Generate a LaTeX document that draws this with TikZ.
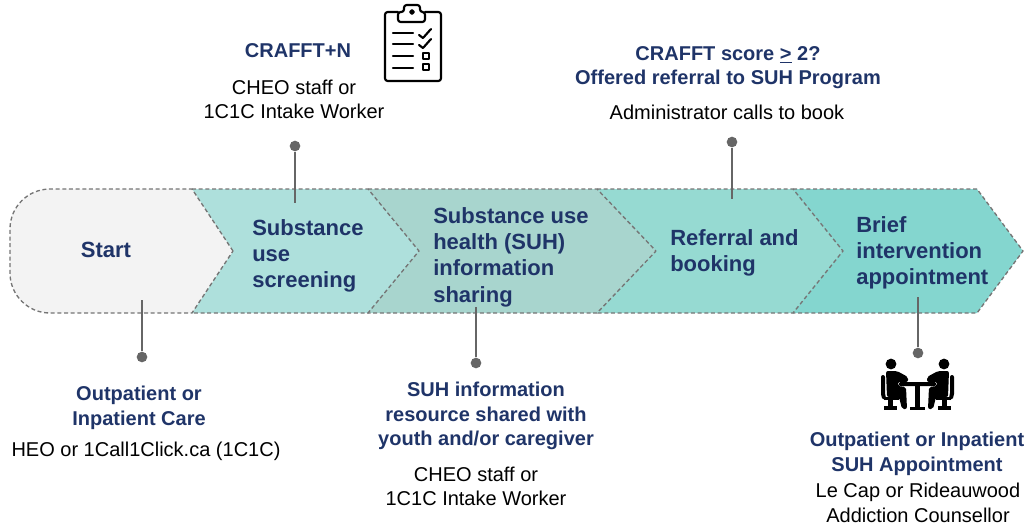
\documentclass[tikz,border=0pt]{standalone}
\usepackage{fontspec}
\setmainfont{Liberation Sans}
\definecolor{navy}{HTML}{1F3468}
\definecolor{pin}{HTML}{666666}
\definecolor{gray1}{HTML}{F3F3F3}
\definecolor{teal2}{HTML}{AEE0DC}
\definecolor{teal3}{HTML}{A8D5CE}
\definecolor{teal4}{HTML}{96DAD2}
\definecolor{teal5}{HTML}{84D6CF}
\tikzset{
  band/.style={draw=pin!90, dash pattern=on 3pt off 2pt, line width=1pt, line join=round},
  steplabel/.style={text=navy, font=\fontsize{16.5}{19.7}\selectfont\bfseries, align=left, inner sep=0pt},
  infohead/.style={text=navy, font=\fontsize{15}{18.5}\selectfont\bfseries, align=center, inner sep=0pt},
  infotext/.style={text=black, font=\fontsize{15}{18.5}\selectfont, align=center, inner sep=0pt},
  pindot/.style={circle, fill=pin, inner sep=0pt, minimum size=8pt},
  pinline/.style={draw=pin, line width=1.5pt},
  iconline/.style={draw=black, line width=1.6pt, line join=round, line cap=round},
}
\newcommand{\sitter}{
  \fill (891,364) circle (5.4);
  \fill[rounded corners=1.5pt] (886,371) -- (897,371) -- (908,377) -- (908,382) -- (898,382) -- (898,386)
    -- (906,387) -- (907,409) -- (902,409) -- (899,397) -- (887,397) -- cycle;
  \fill[rounded corners=1.5pt] (881,375) -- (885,375) -- (885,395) -- (887,400) -- (883,400) -- (881,396) -- cycle;
  \fill (884,397) rectangle (899,400);
  \fill (888,400) rectangle (893,407);
  \fill (884,406) rectangle (897,410);
}

\begin{document}
\begin{tikzpicture}[x=0.75pt, y=-0.75pt]
  \useasboundingbox (0,0) rectangle (1025,526);

  \draw[band, fill=teal5] (793,189) -- (977,189) -- (1023,251) -- (977,313) -- (793,313) -- cycle;
  \draw[band, fill=teal4] (597,189) -- (793,189) -- (843,251) -- (793,313) -- (597,313) -- cycle;
  \draw[band, fill=teal3] (368,189) -- (597,189) -- (656,251) -- (597,313) -- (368,313) -- cycle;
  \draw[band, fill=teal2] (192,189) -- (368,189) -- (419,251) -- (368,313) -- (192,313) -- cycle;
  \draw[band, fill=gray1] (233,251) -- (192,189) [rounded corners=30pt] -- (10,189) -- (10,313)
    [sharp corners] -- (192,313) -- cycle;

  \node[steplabel] (start) at (106,250) {Start};
  \node[steplabel, anchor=west] (screening) at (252,256) {Substance\\use\\screening};
  \node[steplabel, anchor=west] (sharing) at (433,257) {Substance use\\health (SUH)\\information\\sharing};
  \node[steplabel, anchor=west] (referral) at (670,253) {Referral and\\booking};
  \node[steplabel, anchor=west] (brief) at (856,253) {Brief\\intervention\\appointment};

  \node[pindot] (dotA) at (142,357) {};
  \node[pindot] (dotB) at (295,146) {};
  \node[pindot] (dotC) at (476,363) {};
  \node[pindot] (dotD) at (732,142) {};
  \node[pindot] (dotE) at (918,353) {};
  \coordinate (endA) at (142,300);
  \coordinate (endB) at (295,203);
  \coordinate (endC) at (476,307);
  \coordinate (endD) at (732,199);
  \coordinate (endE) at (918,297);
  \foreach \i in {A,B,C,D,E}
    \draw[pinline] (dot\i) -- (end\i);

  \node[infohead] (careHead) at (139,408) {Outpatient or\\Inpatient Care};
  \node[infotext] (careText) at (146,451) {HEO or 1Call1Click.ca (1C1C)};
  \node[infohead] (crafftHead) at (298,51) {CRAFFT+N};
  \node[infotext] (crafftText) at (294,99.5) {CHEO staff or\\1C1C Intake Worker};
  \node[infohead] (suhHead) at (486,416) {SUH information\\resource shared with\\youth and/or caregiver};
  \node[infotext] (suhText) at (476,486.5) {CHEO staff or\\1C1C Intake Worker};
  \node[infohead] (scoreHead) at (728,67.5) {CRAFFT score \underline{>} 2?\\Offered referral to SUH Program};
  \node[infotext] (scoreText) at (727,112) {Administrator calls to book};
  \node[infohead] (apptHead) at (917,454) {Outpatient or Inpatient\\SUH Appointment};
  \node[infotext] (apptText) at (918,503) {Le Cap or Rideauwood\\Addiction Counsellor};

  % clipboard
  \draw[iconline, rounded corners=2pt] (398,12) -- (385,12) -- (385,81) -- (441,81) -- (441,12) -- (425,12);
  \draw[iconline, rounded corners=2pt] (398,22) -- (398,12) -- (404,12) -- (404,5) -- (420,5) -- (420,12) -- (425,12) -- (425,22) -- cycle;
  \draw[iconline] (412,12) circle (1.8);
  \foreach \y in {33,44,56,68}
    \draw[iconline] (393,\y) -- (413,\y);
  \foreach \y in {35,45}
    \draw[iconline] (419,\y) -- (423,\y+3) -- (431,\y-6);
  \foreach \y in {56,67}
    \draw[iconline] (423,\y-3) rectangle (429,\y+3);

  % meeting
  \sitter
  \begin{scope}[shift={(1835,0)}, xscale=-1]
    \sitter
  \end{scope}
  \fill[rounded corners=1pt] (899,382) rectangle (936,386);
  \fill (915,386) rectangle (920,407);
  \fill (910,407) rectangle (925,410);
\end{tikzpicture}
\end{document}
